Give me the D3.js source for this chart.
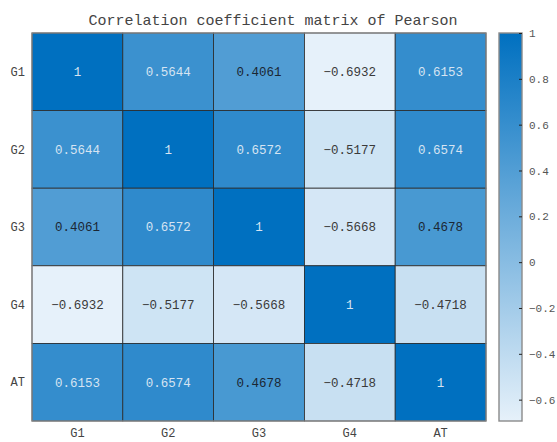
<!DOCTYPE html>
<html>
<head>
<meta charset="utf-8">
<script src="https://cdn.jsdelivr.net/npm/d3@7"></script>
<style>
  body { margin: 0; background: #fff; }
  svg text { font-family: "Liberation Mono", "DejaVu Sans Mono", monospace; }
</style>
</head>
<body>
<svg id="chart" width="557" height="442"></svg>
<script>
// data
const labels = ["G1", "G2", "G3", "G4", "AT"];
const G1 = [1, 0.5644, 0.4061, -0.6932, 0.6153];
const G2 = [0.5644, 1, 0.6572, -0.5177, 0.6574];
const G3 = [0.4061, 0.6572, 1, -0.5668, 0.4678];
const G4 = [-0.6932, -0.5177, -0.5668, 1, -0.4718];
const AT = [0.6153, 0.6574, 0.4678, -0.4718, 1];
const matrix = [G1, G2, G3, G4, AT];
const colorTicks = [-0.6, -0.4, -0.2, 0, 0.2, 0.4, 0.6, 0.8, 1];
const title = "Correlation coefficient matrix of Pearson";

const svg = d3.select("#chart");
const box = {left: 32, right: 486, top: 33, bottom: 421};
const bar = {left: 499, right: 522};

const cells = [];
matrix.forEach((row, i) => row.forEach((v, j) => cells.push({r: labels[i], c: labels[j], v: v})));

const vmin = d3.min(cells, d => d.v), vmax = d3.max(cells, d => d.v);
const lowCol = "#e6f1fa", highCol = "#0070c0";
const color = d3.scaleLinear().domain([vmin, vmax]).range([lowCol, highCol]).interpolate(d3.interpolateRgb);

const x = d3.scaleBand().domain(labels).range([box.left, box.right]);
const y = d3.scaleBand().domain(labels).range([box.top, box.bottom]);

const fmt = v => v === 1 ? "1" : d3.format(".4f")(v);

// cells
const g = svg.append("g");
g.selectAll("rect.cell")
  .data(cells)
  .enter().append("rect")
  .attr("class", "cell")
  .attr("x", d => x(d.c))
  .attr("y", d => y(d.r))
  .attr("width", x.bandwidth())
  .attr("height", y.bandwidth())
  .attr("fill", d => color(d.v))
  .attr("stroke", "#2b2b2b")
  .attr("stroke-width", 0.8);

g.selectAll("text.val")
  .data(cells)
  .enter().append("text")
  .attr("class", "val")
  .attr("x", d => x(d.c) + x.bandwidth() / 2)
  .attr("y", d => y(d.r) + y.bandwidth() / 2)
  .attr("dy", "0.35em")
  .attr("text-anchor", "middle")
  .attr("font-size", 12.5)
  .attr("fill", d => (d.v - vmin) / (vmax - vmin) > 0.7 ? "#d6e4f2" : (d.v < 0 ? "#3a3a3a" : "#1b2633"))
  .text(d => fmt(d.v));

// outer frame
svg.append("rect")
  .attr("x", box.left).attr("y", box.top)
  .attr("width", box.right - box.left).attr("height", box.bottom - box.top)
  .attr("fill", "none").attr("stroke", "#8a8a8a").attr("stroke-width", 1.2);

// row / column labels
svg.append("g").selectAll("text")
  .data(labels)
  .enter().append("text")
  .attr("x", box.left - 7)
  .attr("y", d => y(d) + y.bandwidth() / 2)
  .attr("dy", "0.35em")
  .attr("text-anchor", "end")
  .attr("font-size", 12)
  .attr("fill", "#444")
  .text(d => d);

svg.append("g").selectAll("text")
  .data(labels)
  .enter().append("text")
  .attr("x", d => x(d) + x.bandwidth() / 2)
  .attr("y", 437)
  .attr("text-anchor", "middle")
  .attr("font-size", 12)
  .attr("fill", "#444")
  .text(d => d);

// title
svg.append("text")
  .attr("x", 273)
  .attr("y", 25)
  .attr("text-anchor", "middle")
  .attr("font-size", 15)
  .attr("fill", "#444")
  .text(title);

// colorbar
const defs = svg.append("defs");
const grad = defs.append("linearGradient")
  .attr("id", "cbar").attr("x1", 0).attr("y1", 1).attr("x2", 0).attr("y2", 0);
grad.append("stop").attr("offset", 0).attr("stop-color", lowCol);
grad.append("stop").attr("offset", 1).attr("stop-color", highCol);

const cy = d3.scaleLinear().domain([vmin, vmax]).range([box.bottom, box.top]);

svg.append("rect")
  .attr("x", bar.left).attr("y", box.top)
  .attr("width", bar.right - bar.left).attr("height", box.bottom - box.top)
  .attr("fill", "url(#cbar)")
  .attr("stroke", "#8a8a8a").attr("stroke-width", 1.4);

const axis = svg.append("g")
  .attr("transform", "translate(" + bar.right + ",0)")
  .call(d3.axisRight(cy)
    .tickValues(colorTicks)
    .tickSize(-3)
    .tickPadding(7)
    .tickFormat(d => d === 0 ? "0" : d === 1 ? "1" : d3.format(".1f")(d)));
axis.select(".domain").remove();
axis.selectAll(".tick line").attr("stroke", "#222");
axis.selectAll(".tick text")
  .attr("font-size", 11)
  .attr("fill", "#555")
  .style("font-family", "'Liberation Mono', monospace");
</script>
</body>
</html>
